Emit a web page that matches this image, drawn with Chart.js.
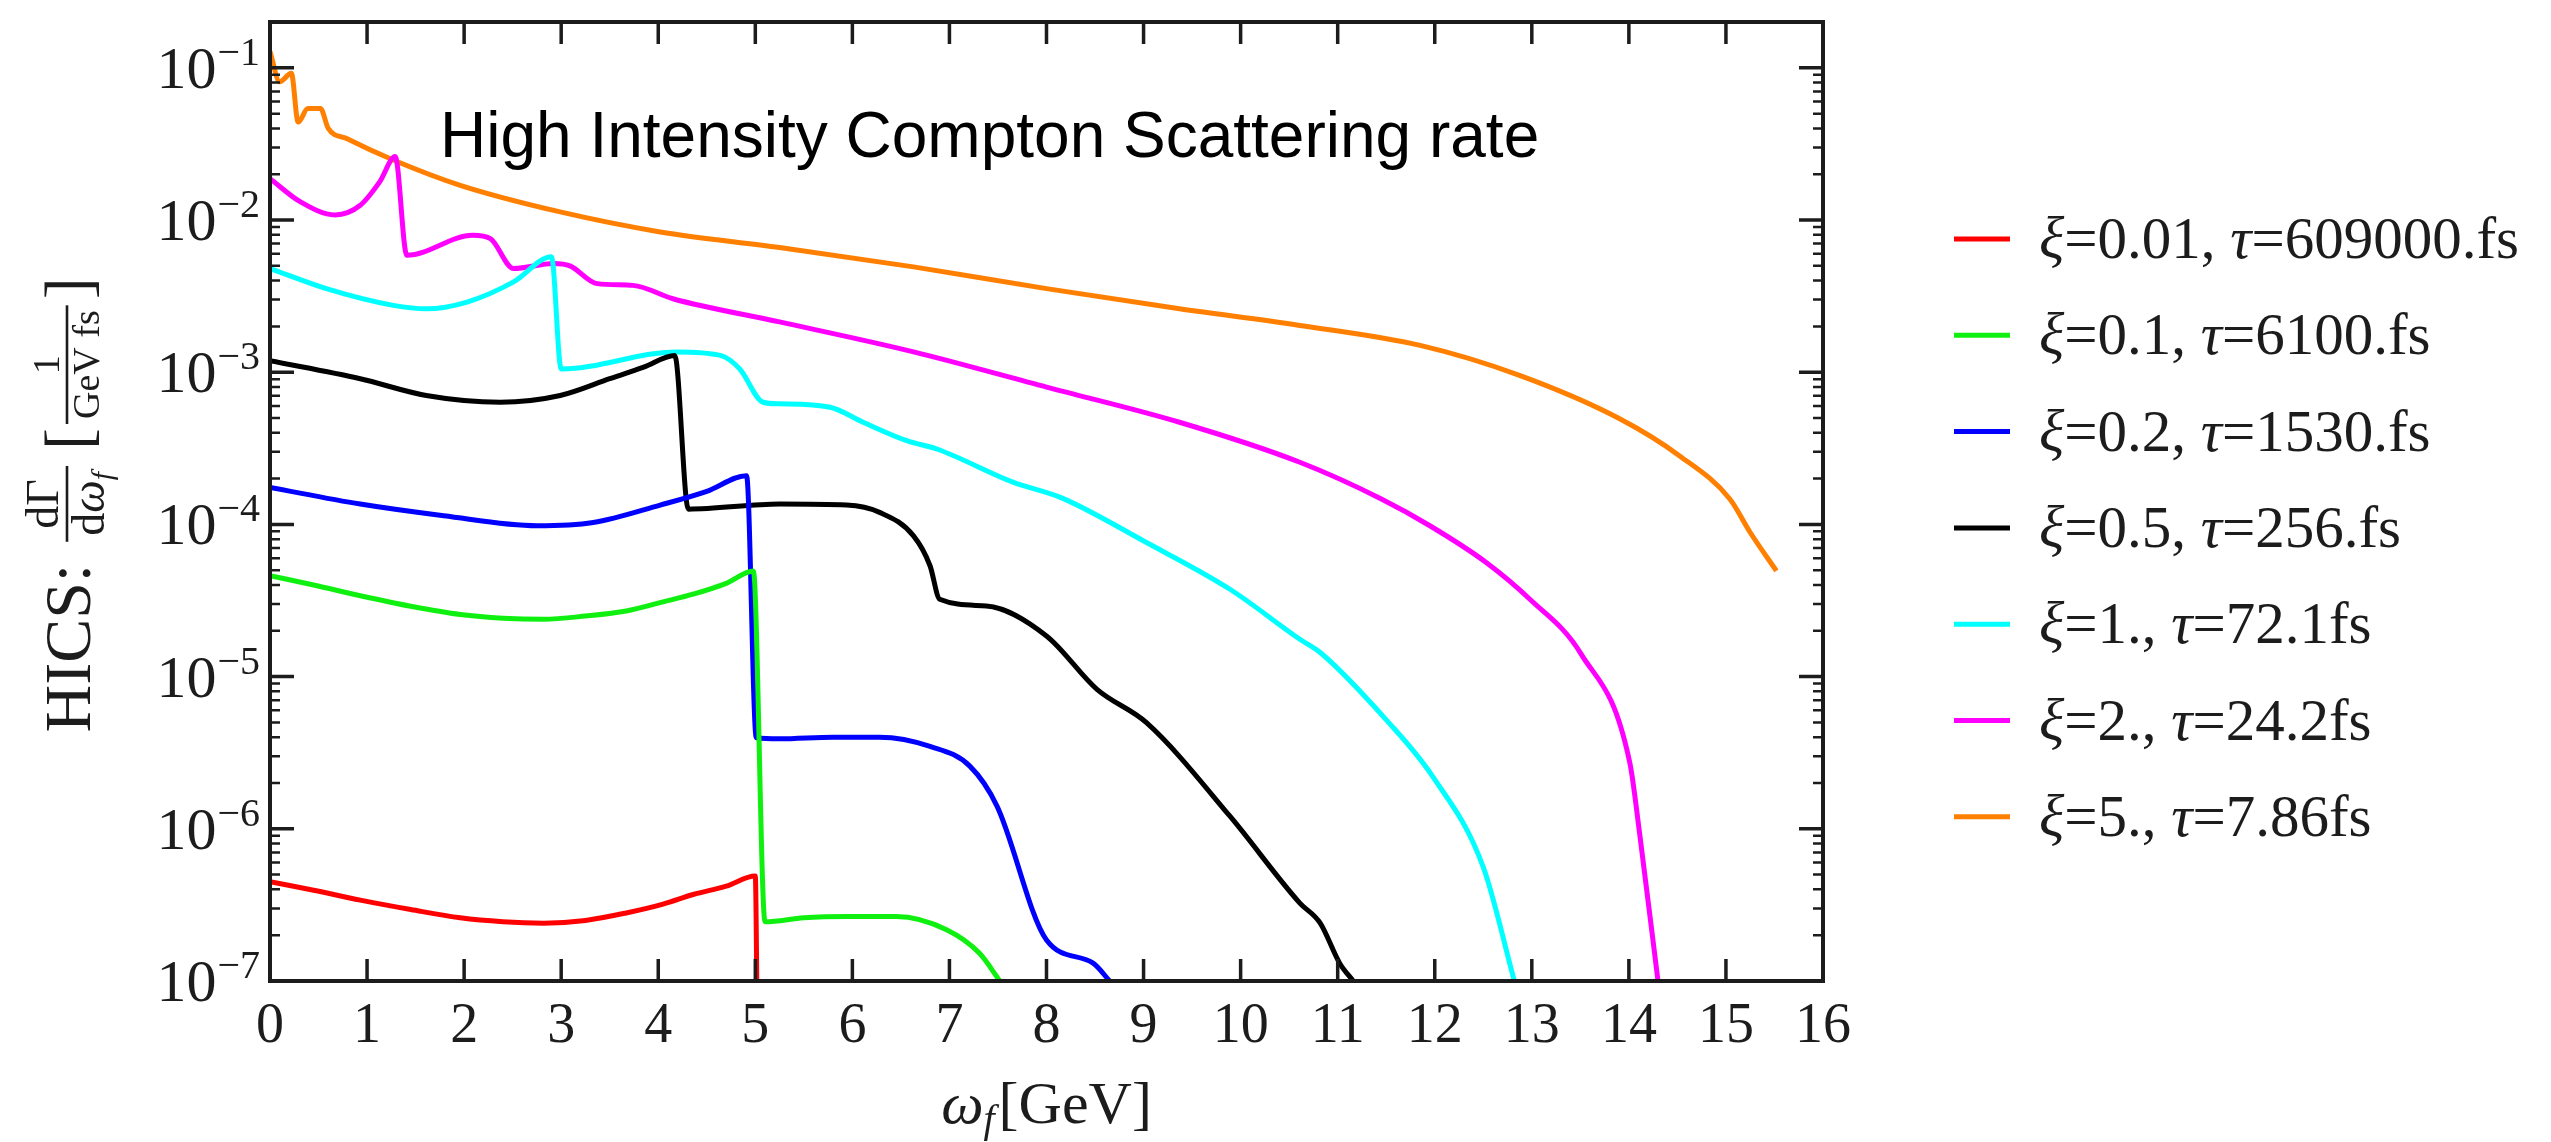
<!DOCTYPE html>
<html>
<head>
<meta charset="utf-8">
<script src="https://cdn.jsdelivr.net/npm/chart.js@4.4.1/dist/chart.umd.min.js"></script>
<style>
  html, body { margin: 0; padding: 0; background: #fff; }
  #wrap { width: 2551px; height: 1142px; }
</style>
</head>
<body>
<div id="wrap"><canvas id="hics" width="2551" height="1142"></canvas></div>
<script>
// HICS rate dΓ/dω_f vs photon energy ω_f [GeV], one curve per ξ

const seriesLabels = [
  'ξ=0.01, τ=609000.fs',
  'ξ=0.1, τ=6100.fs',
  'ξ=0.2, τ=1530.fs',
  'ξ=0.5, τ=256.fs',
  'ξ=1., τ=72.1fs',
  'ξ=2., τ=24.2fs',
  'ξ=5., τ=7.86fs'
];
const seriesColors = ['#ff0000', '#10f010', '#0000ff', '#000000', '#00ffff', '#ff00ff', '#ff8000'];

// ξ = 0.01
const xi001X = [0, 0.45, 0.93, 1.45, 1.96, 2.4, 2.82, 3.25, 3.67, 4.05, 4.36, 4.7, 5.0, 5.02];
const xi001Y = [4.5e-7, 3.95e-7, 3.4e-7, 2.95e-7, 2.6e-7, 2.45e-7, 2.4e-7, 2.5e-7, 2.8e-7, 3.2e-7, 3.7e-7, 4.2e-7, 4.9e-7, 5e-8];
// ξ = 0.1
const xi01X = [0, 0.45, 0.93, 1.45, 1.96, 2.4, 2.82, 3.25, 3.67, 4.05, 4.36, 4.7, 4.98, 5.1, 5.5, 5.94, 6.45, 6.97, 7.31, 7.52];
const xi01Y = [4.6e-5, 4.0e-5, 3.4e-5, 2.9e-5, 2.56e-5, 2.42e-5, 2.38e-5, 2.5e-5, 2.7e-5, 3.1e-5, 3.48e-5, 4.1e-5, 4.95e-5, 2.45e-7, 2.6e-7, 2.65e-7, 2.65e-7, 2.17e-7, 1.52e-7, 1e-7];
// ξ = 0.2
const xi02X = [0, 0.93, 1.79, 2.75, 3.33, 4.02, 4.5, 4.91, 5.01, 5.25, 5.8, 6.28, 6.8, 7.21, 7.49, 8.0, 8.48, 8.65];
const xi02Y = [1.75e-4, 1.36e-4, 1.14e-4, 9.8e-5, 1.03e-4, 1.34e-4, 1.65e-4, 2.09e-4, 3.96e-6, 3.9e-6, 4.0e-6, 4.0e-6, 3.48e-6, 2.58e-6, 1.41e-6, 1.86e-7, 1.31e-7, 1e-7];
// ξ = 0.5
const xi05X = [0, 0.93, 1.61, 2.37, 2.99, 3.5, 3.85, 4.17, 4.31, 5.25, 5.94, 6.28, 6.63, 6.8, 6.9, 7.38, 8.0, 8.52, 9.03, 9.89, 10.61, 10.82, 11.02, 11.16];
const xi05Y = [1.19e-3, 9.06e-4, 7.03e-4, 6.35e-4, 7.03e-4, 9.06e-4, 1.08e-3, 1.29e-3, 1.26e-4, 1.36e-4, 1.34e-4, 1.2e-4, 8.4e-5, 5.35e-5, 3.22e-5, 2.91e-5, 1.85e-5, 8.24e-6, 4.98e-6, 1.21e-6, 3.25e-7, 2.4e-7, 1.31e-7, 1e-7];
// ξ = 1
const xi1X = [0, 0.58, 1.27, 1.61, 2.03, 2.51, 2.9, 3.0, 4.19, 4.64, 4.84, 5.08, 5.25, 5.77, 6.11, 6.56, 6.87, 7.66, 8.15, 9.03, 9.89, 10.61, 10.82, 11.5, 11.98, 12.5, 12.82];
const xi1Y = [4.8e-3, 3.54e-3, 2.75e-3, 2.61e-3, 2.89e-3, 3.92e-3, 5.73e-3, 1.05e-3, 1.36e-3, 1.29e-3, 1.05e-3, 6.35e-4, 6.2e-4, 5.89e-4, 4.69e-4, 3.55e-4, 3.13e-4, 1.89e-4, 1.5e-4, 7.6e-5, 3.75e-5, 1.76e-5, 1.44e-5, 5.2e-6, 2.2e-6, 5.6e-7, 1e-7];
// ξ = 2
const xi2X = [0, 0.31, 0.67, 0.93, 1.13, 1.29, 1.41, 2.09, 2.27, 2.51, 2.92, 3.09, 3.37, 3.74, 4.15, 5.25, 6.63, 8.0, 9.37, 10.61, 11.45, 11.95, 12.53, 12.98, 13.51, 14.01, 14.11, 14.3];
const xi2Y = [1.87e-2, 1.32e-2, 1.08e-2, 1.25e-2, 1.78e-2, 2.61e-2, 5.86e-3, 7.94e-3, 7.55e-3, 4.8e-3, 5.18e-3, 5.0e-3, 3.82e-3, 3.72e-3, 3.04e-3, 2.14e-3, 1.36e-3, 7.98e-4, 4.69e-4, 2.56e-4, 1.47e-4, 9.8e-5, 5.62e-5, 3.22e-5, 1.4e-5, 2.71e-6, 9.4e-7, 1e-7];
// ξ = 5
const xi5X = [0, 0.1, 0.22, 0.29, 0.39, 0.52, 0.6, 0.79, 1.27, 1.96, 2.99, 4.02, 5.25, 6.63, 8.0, 9.37, 10.61, 11.85, 12.88, 13.91, 14.52, 15.04, 15.25, 15.52];
const xi5Y = [0.128, 0.081, 0.092, 0.044, 0.054, 0.054, 0.040, 0.0343, 0.0248, 0.0169, 0.0113, 0.00835, 0.0066, 0.00492, 0.00354, 0.00261, 0.00203, 0.0015, 0.00095, 0.000493, 0.000283, 0.000147, 8.85e-5, 4.95e-5];

const seriesX = [xi001X, xi01X, xi02X, xi05X, xi1X, xi2X, xi5X];
const seriesY = [xi001Y, xi01Y, xi02Y, xi05Y, xi1Y, xi2Y, xi5Y];

// axis ticks
const xTickValues = [0, 1, 2, 3, 4, 5, 6, 7, 8, 9, 10, 11, 12, 13, 14, 15, 16];
const yTickExponents = [-1, -2, -3, -4, -5, -6, -7];

const INK = '#1c1c1c';
const SERIF = '"Liberation Serif", "DejaVu Serif", serif';

// draw a list of text runs {t, font, dy} starting at x, returns total width
function runsWidth(ctx, runs) {
  let w = 0;
  for (const r of runs) { ctx.font = r.font; w += ctx.measureText(r.t).width + (r.gap || 0); }
  return w;
}
function drawRuns(ctx, runs, x, y) {
  for (const r of runs) {
    ctx.font = r.font;
    ctx.fillText(r.t, x, y + (r.dy || 0));
    x += ctx.measureText(r.t).width + (r.gap || 0);
  }
  return x;
}
// stacked fraction on the current baseline, returns end x
function drawFraction(ctx, x, num, den, opt) {
  const nw = runsWidth(ctx, num), dw = runsWidth(ctx, den);
  const w = Math.max(nw, dw) + opt.pad * 2;
  drawRuns(ctx, num, x + (w - nw) / 2, opt.numBase);
  drawRuns(ctx, den, x + (w - dw) / 2, opt.denBase);
  ctx.fillRect(x, opt.bar - 1.3, w, 2.6);
  return x + w;
}

// legend text: Greek letters set in italic
function legendRuns(label, size) {
  const runs = [];
  for (const ch of label) {
    const italic = (ch === 'ξ' || ch === 'τ');
    runs.push({ t: ch, font: (italic ? 'italic ' : '') + size + 'px ' + SERIF });
  }
  return runs;
}

const decorations = {
  id: 'decorations',
  afterDatasetsDraw(chart) {
    const ctx = chart.ctx;
    const area = chart.chartArea;
    const xs = chart.scales.x, ys = chart.scales.y;
    ctx.save();
    ctx.fillStyle = INK;
    ctx.strokeStyle = INK;

    // frame
    ctx.lineWidth = 4;
    ctx.strokeRect(area.left, area.top, area.right - area.left, area.bottom - area.top);

    // x ticks, bottom and top
    ctx.lineWidth = 3.5;
    ctx.beginPath();
    for (const v of xTickValues) {
      const px = xs.getPixelForValue(v);
      ctx.moveTo(px, area.bottom); ctx.lineTo(px, area.bottom - 22);
      ctx.moveTo(px, area.top); ctx.lineTo(px, area.top + 22);
    }
    ctx.stroke();

    // y ticks with log minors, left and right
    for (const e of yTickExponents) {
      for (let m = 1; m <= 9; m++) {
        const v = m * Math.pow(10, e);
        if (v > ys.max * 1.0001) continue;
        const py = ys.getPixelForValue(v);
        const len = m === 1 ? 24 : 10;
        ctx.lineWidth = m === 1 ? 3.5 : 2.5;
        ctx.beginPath();
        ctx.moveTo(area.left, py); ctx.lineTo(area.left + len, py);
        ctx.moveTo(area.right, py); ctx.lineTo(area.right - len, py);
        ctx.stroke();
      }
    }

    // x tick labels
    ctx.textAlign = 'center';
    ctx.textBaseline = 'alphabetic';
    ctx.font = '56px ' + SERIF;
    for (const v of xTickValues) {
      ctx.fillText(String(v), xs.getPixelForValue(v), area.bottom + 61);
    }

    // y tick labels 10^n
    ctx.textAlign = 'left';
    for (const e of yTickExponents) {
      const py = ys.getPixelForValue(Math.pow(10, e));
      const sup = '−' + (-e);
      ctx.font = '40px ' + SERIF;
      const sw = ctx.measureText(sup).width;
      ctx.font = '60px ' + SERIF;
      const bw = ctx.measureText('10').width;
      const right = area.left - 10;
      ctx.fillText('10', right - sw - bw - 1, py + 20);
      ctx.font = '40px ' + SERIF;
      ctx.fillText(sup, right - sw, py - 3);
    }

    // x axis title  ω_f[GeV]
    const xTitle = [
      { t: 'ω', font: 'italic 60px ' + SERIF },
      { t: 'f', font: 'italic 40px ' + SERIF, dy: 9, gap: 4 },
      { t: '[GeV]', font: '60px ' + SERIF }
    ];
    const tw = runsWidth(ctx, xTitle);
    drawRuns(ctx, xTitle, (area.left + area.right) / 2 - tw / 2, area.bottom + 142);

    // y axis title, rotated:  HICS: dΓ/dω_f [1/(GeV fs)]
    ctx.save();
    ctx.translate(90, (area.top + area.bottom) / 2 + 231);
    ctx.rotate(-Math.PI / 2);
    ctx.font = '66px ' + SERIF;
    ctx.fillText('HICS:', 0, 0);
    let cx = ctx.measureText('HICS:').width + 22;
    cx = drawFraction(ctx, cx,
      [{ t: 'd', font: '46px ' + SERIF }, { t: 'Γ', font: '46px ' + SERIF }],
      [{ t: 'd', font: '46px ' + SERIF }, { t: 'ω', font: 'italic 46px ' + SERIF },
       { t: 'f', font: 'italic 30px ' + SERIF, dy: 8 }],
      { pad: 6, bar: -23, numBase: -32, denBase: 14 });
    cx += 16;
    ctx.font = '66px ' + SERIF;
    ctx.fillText('[', cx, 0);
    cx += ctx.measureText('[').width + 4;
    cx = drawFraction(ctx, cx,
      [{ t: '1', font: '38px ' + SERIF }],
      [{ t: 'GeV fs', font: '38px ' + SERIF }],
      { pad: 5, bar: -23, numBase: -31, denBase: 9 });
    cx += 6;
    ctx.font = '66px ' + SERIF;
    ctx.fillText(']', cx, 0);
    ctx.restore();

    // title inside the frame
    ctx.fillStyle = '#000';
    ctx.font = '64px "Liberation Sans", Arial, sans-serif';
    ctx.fillText('High Intensity Compton Scattering rate', area.left + 170, area.top + 135);

    // legend on the right
    const legX = area.right + 131, legTop = 239, legStep = 96.3;
    chart.data.datasets.forEach((ds, i) => {
      const ly = legTop + i * legStep;
      ctx.strokeStyle = ds.borderColor;
      ctx.lineWidth = 5;
      ctx.beginPath();
      ctx.moveTo(legX, ly); ctx.lineTo(legX + 56, ly);
      ctx.stroke();
      ctx.fillStyle = INK;
      drawRuns(ctx, legendRuns(ds.label, 59), legX + 85, ly + 19);
    });

    ctx.restore();
  }
};

const datasets = seriesLabels.map((label, i) => ({
  label: label,
  data: seriesX[i].map((x, k) => ({ x: x, y: seriesY[i][k] })),
  borderColor: seriesColors[i],
  borderWidth: 5,
  pointRadius: 0,
  fill: false,
  cubicInterpolationMode: 'monotone',
  clip: 0
}));

new Chart(document.getElementById('hics'), {
  type: 'line',
  data: { datasets: datasets },
  options: {
    responsive: false,
    animation: false,
    devicePixelRatio: 1,
    layout: { padding: { left: 270, right: 728, top: 22, bottom: 161 } },
    scales: {
      x: { type: 'linear', min: 0, max: 16, display: false },
      y: { type: 'logarithmic', min: 1e-7, max: 0.2, display: false }
    },
    plugins: {
      legend: { display: false },
      tooltip: { enabled: false }
    }
  },
  plugins: [decorations]
});
</script>
</body>
</html>
